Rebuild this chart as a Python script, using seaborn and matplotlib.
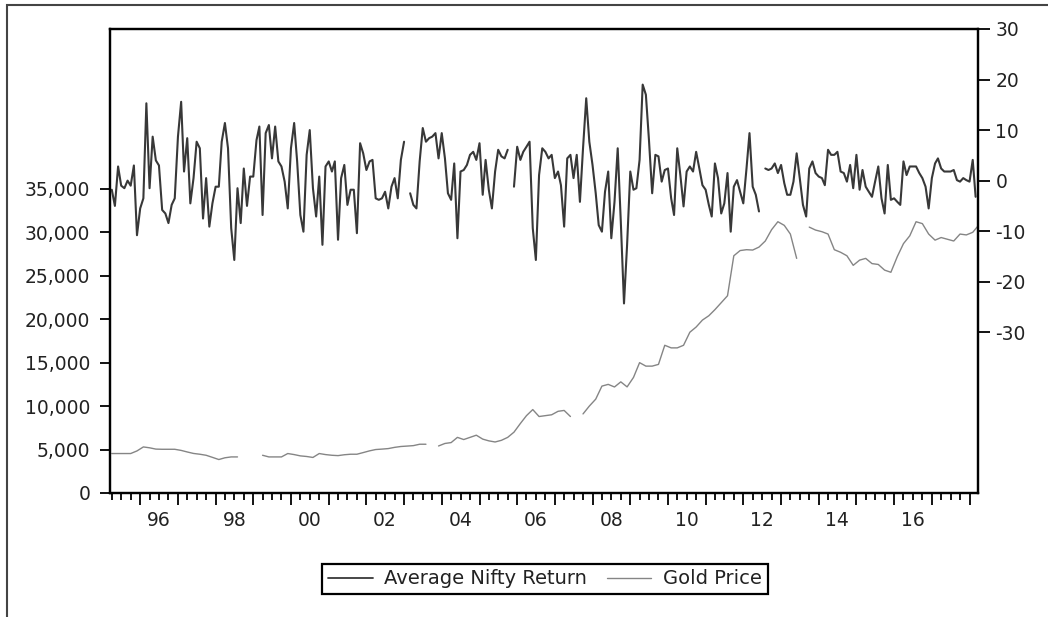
"""Average Nifty return vs gold price (EViews-style dual axis chart)"""
import matplotlib
matplotlib.use("Agg")
import matplotlib.dates as mdates
import matplotlib.pyplot as plt
import numpy as np
import pandas as pd
import seaborn as sns
from matplotlib.lines import Line2D
from matplotlib.patches import Rectangle
from matplotlib.ticker import FuncFormatter, NullFormatter

nan = np.nan

# monthly average Nifty return (%), Apr 1995 onwards, right axis
NIFTY_START = "1995-04-01"
nifty_return = [
    -1.8, -5.0, 2.8, -1.0, -1.5, 0.0, -1.0, 3.0, -10.8, -5.5,
    -3.5, 15.3, -1.5, 8.7, 4.0, 3.0, -5.8, -6.5, -8.4, -4.8,
    -3.5, 8.7, 15.6, 1.8, 8.4, -4.5, 0.5, 7.7, 6.4, -7.5,
    0.5, -9.1, -4.5, -1.2, -1.2, 7.7, 11.4, 6.4, -9.4, -15.7,
    -1.5, -8.4, 2.4, -5.0, 0.8, 0.8, 8.0,
    10.7, -6.8, 9.4, 11.0, 4.4, 10.7, 3.8, 2.8, -0.2, -5.5,
    6.4, 11.4, 3.8, -6.8, -10.1, 5.1, 10.0, -1.5, -7.1, 0.8,
    -12.7, 2.8, 3.8, 1.8, 3.8, -11.7, 0.5, 3.1, -4.8, -1.8,
    -1.8, -10.4, 7.4, 5.4, 2.1, 3.8, 4.1, -3.5, -3.8, -3.5,
    -2.2, -5.5, -1.2, 0.5, -3.5, 4.1, 7.7,
    nan, -2.5, -4.8, -5.5, 3.8, 10.4, 7.7, 8.4, 8.7, 9.4,
    4.4, 9.4, 4.4, -2.5, -3.8, 3.4, -11.4, 1.8, 2.1, 3.1,
    5.1, 5.7, 4.1, 7.4, -2.8, 4.1, -1.8, -5.5, 1.8, 6.1,
    4.8, 4.4, 6.1, nan, -1.2, 6.7, 4.1, 5.7, 6.7, 7.7,
    -9.4, -15.7, 1.1, 6.4, 5.7, 4.4,
    5.1, 0.5, 1.8, -0.9, -9.1, 4.4, 5.1, 0.5, 5.1, -4.2,
    6.4, 16.3, 7.7, 3.1, -2.5, -8.8, -10.1, -2.2, 1.8, -11.4,
    -4.2, 6.4, -8.1, -24.3, -12.7, 1.8, -1.8, -1.5, 4.1, 19.0,
    17.0, 8.0, -2.5, 5.1, 4.8, -0.2, 2.1, 2.4, -3.5, -6.8,
    6.4, 1.1, -5.1, 1.8, 2.8, 1.8, 5.7,
    2.4, -0.9, -1.8, -4.8, -7.1, 3.4, 0.5, -6.5, -4.5, 1.5,
    -10.1, -1.2, 0.1, -2.2, -4.5, 2.4, 9.4, -1.2, -2.8, -6.1,
    nan, 2.4, 2.1, 2.4, 3.4, 1.5, 3.1, -0.5, -2.8, -2.8,
    -0.2, 5.4, 0.5, -4.8, -7.1, 2.4, 3.8, 1.5, 0.8, 0.5,
    -0.9, 6.1, 5.1, 5.1, 5.7, 1.8,
    1.5, -0.2, 3.1, -1.5, 5.1, -1.8, 2.1, -1.2, -2.2, -3.2,
    -0.2, 2.8, -3.5, -6.5, 3.1, -3.8, -3.5, -4.2, -4.8, 3.8,
    1.1, 2.8, 2.8, 2.8, 1.5, 0.5, -1.2, -5.5, 0.5, 3.4,
    4.4, 2.4, 1.8, 1.8, 1.8, 2.1, 0.1, -0.2, 0.5, 0.1,
    -0.2, 4.1, -3.2,
]

# gold price (Rs per 10 g), every second month from Apr 1995, left axis
GOLD_START = "1995-04-01"
gold_price = [
    4540, 4540, 4540, 4540, 4840, 5300, 5200, 5050, 5030, 5030,
    5030, 4900, 4720, 4550, 4460, 4340, 4100, 3850, 4050, 4150,
    4150, nan, nan, nan, 4340, 4150, 4150, 4150, 4540, 4420,
    4270, 4200, 4090, 4540, 4420, 4340, 4300, 4400, 4460, 4460,
    4650, 4850, 5000, 5050, 5110, 5250, 5350, 5400, 5450, 5610,
    5610, nan, 5410, 5700, 5800, 6400, 6150, 6400, 6650, 6200,
    6000, 5870, 6060, 6400, 7000, 8000, 8900, 9600, 8800, 8900,
    9000, 9400, 9500, 8800, nan, 9100, 10000, 10800, 12300, 12500,
    12200, 12790, 12210, 13300, 15000, 14600, 14600, 14800, 17000, 16700,
    16700, 17000, 18500, 19100, 19900, 20400, 21100, 21900, 22700, 27300,
    27900, 28000, 27960, 28300, 29000, 30300, 31220, 30800, 29800, 27000,
    nan, 30600, 30260, 30070, 29800, 28000, 27700, 27300, 26200, 26800,
    27000, 26400, 26300, 25650, 25400, 27200, 28700, 29600, 31220, 31000,
    29800, 29100, 29400, 29200, 29000, 29800, 29700, 30000, 30840,
]

left_ticks = [0, 5000, 10000, 15000, 20000, 25000, 30000, 35000]
right_ticks = [-30, -20, -10, 0, 10, 20, 30]
legend_labels = ["Average Nifty Return", "Gold Price"]

NIFTY_COLOR = "#383838"
GOLD_COLOR = "#858585"
TEXT_COLOR = "#222222"
FONT_SIZE = 13.5


def split_segments(dates, values, name):
    """missing values break the line, as in EViews"""
    df = pd.DataFrame({"date": dates, name: values})
    df["segment"] = df[name].isna().cumsum()
    return df.dropna()


def year_label(value, pos):
    d = mdates.num2date(value)
    return f"{d.year % 100:02d}" if d.month == 7 and d.year % 2 == 0 else ""


sns.set_theme(style="ticks")
plt.rcParams["font.family"] = ["DejaVu Sans"]
plt.rcParams["text.color"] = TEXT_COLOR
plt.rcParams["xtick.color"] = "black"
plt.rcParams["ytick.color"] = "black"
plt.rcParams["xtick.labelcolor"] = TEXT_COLOR
plt.rcParams["ytick.labelcolor"] = TEXT_COLOR

nifty_df = split_segments(
    pd.date_range(NIFTY_START, periods=len(nifty_return), freq="MS"), nifty_return, "nifty"
)
gold_df = split_segments(
    pd.date_range(GOLD_START, periods=len(gold_price), freq="2MS"), gold_price, "gold"
)

fig = plt.figure(figsize=(10.48, 6.17), dpi=100)
fig.patch.set_facecolor("white")
ax = fig.add_axes([0.105, 0.201, 0.828, 0.752])
ax2 = ax.twinx()

sns.lineplot(data=gold_df, x="date", y="gold", units="segment", estimator=None,
             color=GOLD_COLOR, lw=1.0, ax=ax, legend=False)
sns.lineplot(data=nifty_df, x="date", y="nifty", units="segment", estimator=None,
             color=NIFTY_COLOR, lw=1.5, ax=ax2, legend=False)

ax.set_xlim(pd.Timestamp("1995-03-15"), pd.Timestamp("2018-03-22"))
ax.set_ylim(0, 53400)
ax2.set_ylim(-61.8, 30)
for a in (ax, ax2):
    a.set_xlabel("")
    a.set_ylabel("")
    for spine in a.spines.values():
        spine.set_visible(True)
        spine.set_color("black")
        spine.set_linewidth(1.6)

ax.set_yticks(left_ticks)
ax.yaxis.set_major_formatter(FuncFormatter(lambda v, p: f"{v:,.0f}"))
ax.tick_params(axis="y", which="major", direction="out", length=7.2, width=1.3,
               pad=7, labelsize=FONT_SIZE, left=True, right=False)

ax2.set_yticks(right_ticks)
ax2.yaxis.set_major_formatter(FuncFormatter(lambda v, p: f"{v:.0f}"))
ax2.tick_params(axis="y", which="major", direction="out", length=8.6, width=1.3,
                pad=4, labelsize=FONT_SIZE, left=False, right=True)

ax.xaxis.set_major_locator(mdates.YearLocator(1))
ax.xaxis.set_major_formatter(NullFormatter())
ax.xaxis.set_minor_locator(mdates.MonthLocator(bymonth=[4, 7, 10]))
ax.xaxis.set_minor_formatter(FuncFormatter(year_label))
ax.tick_params(axis="x", which="major", direction="out", length=8.6, width=1.3,
               bottom=True, top=False)
ax.tick_params(axis="x", which="minor", direction="out", length=5, width=1.3,
               pad=8, labelsize=FONT_SIZE, bottom=True, top=False)

handles = [
    Line2D([], [], color=NIFTY_COLOR, lw=1.3, label=legend_labels[0]),
    Line2D([], [], color=GOLD_COLOR, lw=1.0, label=legend_labels[1]),
]
leg = fig.legend(handles=handles, loc="center", bbox_to_anchor=(0.52, 0.0616), ncol=2,
                 frameon=True, fancybox=False, edgecolor="black", framealpha=1,
                 handlelength=2.3, handletextpad=0.6, columnspacing=1.0,
                 borderpad=0.3, borderaxespad=0.2, fontsize=14)
leg.get_frame().set_linewidth(1.6)

# outer window frame, cut off at the right and bottom in the original
W, H = 1048, 617
fig.add_artist(Rectangle((7 / W, -0.2), 1.3, 1.2 - 5 / H, transform=fig.transFigure,
                         fill=False, edgecolor="#444444", lw=1.5, clip_on=False))

fig.savefig("out.png", dpi=100)
plt.close(fig)
print("saved out.png")
